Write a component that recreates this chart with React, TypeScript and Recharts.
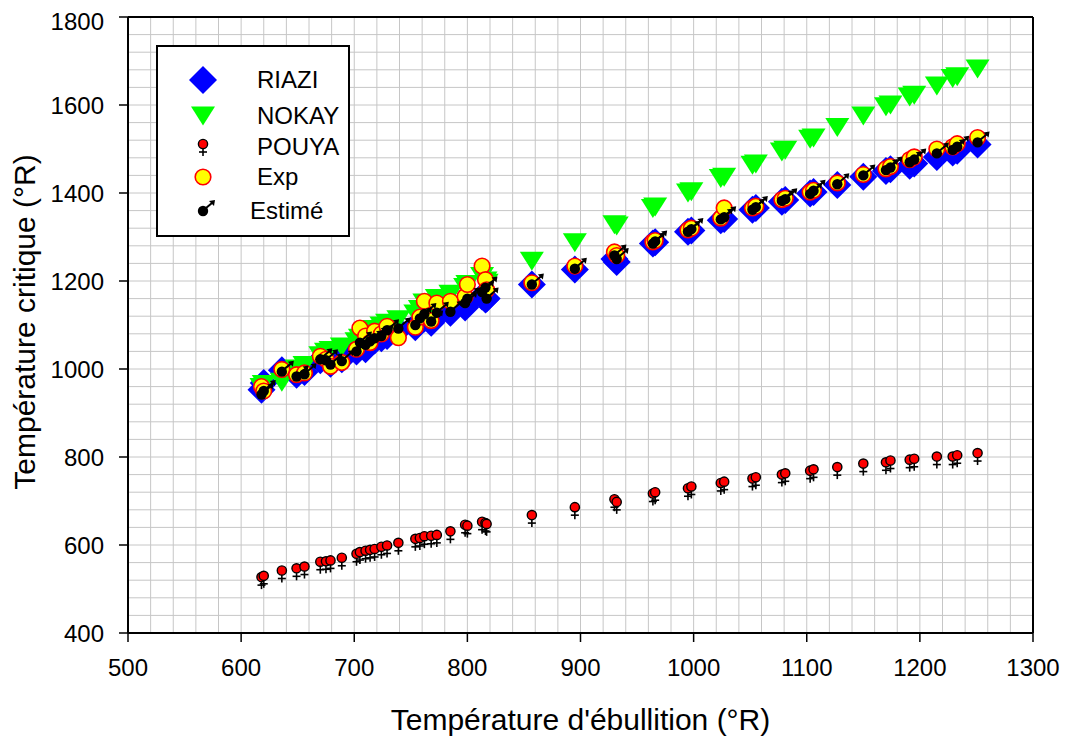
import React from 'react';
import { ScatterChart, Scatter, XAxis, YAxis, CartesianGrid, ReferenceLine, Legend, Label } from 'recharts';

// Température d'ébullition (°R) de chaque composé
const tb = [
  618, 620, 636, 649, 656, 670, 675, 679, 689, 702, 705, 710, 714, 718, 724, 729, 739, 754, 758, 762,
  768, 773, 785, 798, 800, 813, 816, 817, 857, 895, 930, 932, 964, 966, 995, 998, 1024, 1027, 1052, 1055,
  1078, 1081, 1103, 1106, 1127, 1150, 1170, 1174, 1191, 1195, 1215, 1229, 1233, 1251,
];

// Température critique (°R) par corrélation
const riazi = [
  953, 968, 997, 987, 993, 1020, 1025, 1012, 1022, 1040, 1050, 1045, 1058, 1065, 1070, 1075, 1088, 1095, 1108, 1115,
  1105, 1120, 1128, 1140, 1150, 1165, 1158, 1160, 1192, 1226, 1250, 1243, 1285, 1288, 1312, 1315, 1338, 1341, 1362, 1366,
  1380, 1384, 1399, 1402, 1418, 1437, 1450, 1454, 1462, 1467, 1482, 1492, 1496, 1510,
];
const nokay = [
  958, 965, 970, 1000, 1008, 1030, 1038, 1042, 1050, 1062, 1070, 1075, 1082, 1090, 1098, 1104, 1112, 1125, 1135, 1150,
  1140, 1160, 1170, 1185, 1192, 1210, 1200, 1195, 1245, 1287, 1328, 1325, 1365, 1368, 1400, 1403, 1433, 1436, 1463, 1466,
  1493, 1497, 1522, 1525, 1549, 1575, 1596, 1600, 1618, 1622, 1643, 1660, 1664, 1682,
];
const pouya = [
  527, 530, 542, 547, 551, 562, 563, 565, 571, 580, 584, 587, 589, 591, 596, 599, 605, 614, 616, 620,
  621, 623, 631, 646, 644, 653, 650, 648, 668, 686, 704, 698, 717, 720, 729, 733, 741, 744, 751, 754,
  760, 763, 769, 772, 777, 785, 788, 792, 794, 796, 801, 801, 804, 809,
];
const exp = [
  960, 950, 999, 987, 991, 1029, 1022, 1006, 1015, 1045, 1093, 1075, 1060, 1086, 1080, 1097, 1071, 1095, 1118, 1154,
  1110, 1150, 1154, 1165, 1192, 1234, 1203, 1180, 1196, 1234, 1266, 1258, 1289, 1292, 1316, 1320, 1343, 1366, 1366, 1370,
  1385, 1388, 1402, 1406, 1423, 1442, 1455, 1460, 1476, 1482, 1500, 1505, 1512, 1526,
];
const estime = [
  942, 950, 994, 983, 988, 1022, 1020, 1010, 1018, 1040, 1060, 1055, 1063, 1070, 1075, 1088, 1092, 1100, 1115, 1125,
  1108, 1128, 1130, 1150, 1160, 1175, 1185, 1160, 1192, 1228, 1258, 1250, 1285, 1290, 1312, 1318, 1340, 1345, 1362, 1368,
  1382, 1386, 1398, 1405, 1420, 1440, 1452, 1458, 1470, 1476, 1490, 1498, 1505, 1515,
];

const xTicks = [500, 600, 700, 800, 900, 1000, 1100, 1200, 1300];
const yTicks = [400, 600, 800, 1000, 1200, 1400, 1600, 1800];
const xGrid = Array.from({ length: 41 }, (_, i) => 500 + i * 20);
const yGrid = Array.from({ length: 36 }, (_, i) => 400 + i * 40);

const toPoints = (ys: number[]) => tb.map((x, i) => ({ x, y: ys[i] }));

const font = '"Liberation Sans", Arial, sans-serif';

const Diamond = ({ cx, cy }: any) => (
  <polygon points={`${cx},${cy - 14} ${cx + 14},${cy} ${cx},${cy + 14} ${cx - 14},${cy}`} fill="#0000FF" />
);
const TriangleDown = ({ cx, cy }: any) => (
  <polygon points={`${cx - 12},${cy - 9.5} ${cx + 12},${cy - 9.5} ${cx},${cy + 9.5}`} fill="#00FF00" />
);
const Female = ({ cx, cy }: any) => (
  <g>
    <line x1={cx} y1={cy + 4} x2={cx} y2={cy + 12} stroke="#000" strokeWidth={1.6} />
    <line x1={cx - 4} y1={cy + 8} x2={cx + 4} y2={cy + 8} stroke="#000" strokeWidth={1.6} />
    <circle cx={cx} cy={cy} r={4.6} fill="#FF0000" stroke="#000" strokeWidth={1.4} />
  </g>
);
const ExpCircle = ({ cx, cy }: any) => (
  <circle cx={cx} cy={cy} r={7.8} fill="#FFFF00" stroke="#FF0000" strokeWidth={1.6} />
);
const Male = ({ cx, cy }: any) => (
  <g>
    <line x1={cx + 3} y1={cy - 3} x2={cx + 9} y2={cy - 8} stroke="#000" strokeWidth={2} />
    <polygon points={`${cx + 12},${cy - 11} ${cx + 6},${cy - 10} ${cx + 11},${cy - 5}`} fill="#000" />
    <circle cx={cx} cy={cy} r={5.2} fill="#000" />
  </g>
);

const legendItems = [
  { name: 'RIAZI', Marker: Diamond, cy: 33, tx: 99 },
  { name: 'NOKAY', Marker: TriangleDown, cy: 69, tx: 99 },
  { name: 'POUYA', Marker: Female, cy: 97, tx: 99, ty: 100 },
  { name: 'Exp', Marker: ExpCircle, cy: 130, tx: 99 },
  { name: 'Estimé', Marker: Male, cy: 164, tx: 92 },
];

const LegendBox = () => (
  <div style={{ width: 194, height: 192, border: '2px solid #000', background: '#fff', boxSizing: 'border-box' }}>
    <svg width={190} height={188} style={{ display: 'block' }}>
      {legendItems.map(({ name, Marker, cy, tx, ty }) => (
        <g key={name}>
          <Marker cx={45} cy={cy} />
          <text x={tx} y={(ty ?? cy) + 8} fontFamily={font} fontSize={24} fill="#000">{name}</text>
        </g>
      ))}
    </svg>
  </div>
);

const tickStyle = { fontFamily: font, fontSize: 24, fill: '#000' };

// grid lines every 20 °R horizontally and 40 °R vertically, placed through the axis scale
const verticalGrid = ({ xAxis, offset }: any) =>
  xGrid.map((v) =>
    xAxis && typeof xAxis.scale === 'function'
      ? xAxis.scale(v)
      : offset.left + ((v - 500) / 800) * offset.width
  );
const horizontalGrid = ({ yAxis, offset }: any) =>
  yGrid.map((v) =>
    yAxis && typeof yAxis.scale === 'function'
      ? yAxis.scale(v)
      : offset.top + ((1800 - v) / 1400) * offset.height
  );

export default function App() {
  return (
    <ScatterChart width={1053} height={730} margin={{ top: 9, right: 28, left: 0, bottom: 0 }}>
      <CartesianGrid
        verticalCoordinatesGenerator={verticalGrid}
        horizontalCoordinatesGenerator={horizontalGrid}
        stroke="#c6c6c6"
        strokeWidth={1}
      />
      <XAxis
        type="number"
        dataKey="x"
        domain={[500, 1300]}
        ticks={xTicks}
        height={105}
        tick={tickStyle}
        tickSize={9}
        tickMargin={17}
        axisLine={{ stroke: '#000', strokeWidth: 2 }}
        tickLine={{ stroke: '#000', strokeWidth: 1.5 }}
        allowDataOverflow
      >
        <Label
          content={() => (
            <text x={572.5} y={722} textAnchor="middle" fontFamily={font} fontSize={30} fill="#000">
              Température d'ébullition (°R)
            </text>
          )}
        />
      </XAxis>
      <YAxis
        type="number"
        dataKey="y"
        domain={[400, 1800]}
        ticks={yTicks}
        width={120}
        tick={tickStyle}
        tickSize={9}
        tickMargin={15}
        axisLine={{ stroke: '#000', strokeWidth: 2 }}
        tickLine={{ stroke: '#000', strokeWidth: 1.5 }}
        allowDataOverflow
      >
        <Label
          content={() => (
            <text
              x={27}
              y={314}
              transform="rotate(-90 27 314)"
              textAnchor="middle"
              fontFamily={font}
              fontSize={30}
              fill="#000"
            >
              Température critique (°R)
            </text>
          )}
        />
      </YAxis>
      <ReferenceLine y={1800} stroke="#000" strokeWidth={2} />
      <ReferenceLine x={1300} stroke="#000" strokeWidth={2} />
      <Scatter name="RIAZI" data={toPoints(riazi)} shape={Diamond} isAnimationActive={false} />
      <Scatter name="NOKAY" data={toPoints(nokay)} shape={TriangleDown} isAnimationActive={false} />
      <Scatter name="POUYA" data={toPoints(pouya)} shape={Female} isAnimationActive={false} />
      <Scatter name="Exp" data={toPoints(exp)} shape={ExpCircle} isAnimationActive={false} />
      <Scatter name="Estimé" data={toPoints(estime)} shape={Male} isAnimationActive={false} />
      <Legend
        layout="vertical"
        align="center"
        verticalAlign="middle"
        content={() => <LegendBox />}
        wrapperStyle={{ left: 148, top: 37, width: 194, height: 192 }}
      />
    </ScatterChart>
  );
}
